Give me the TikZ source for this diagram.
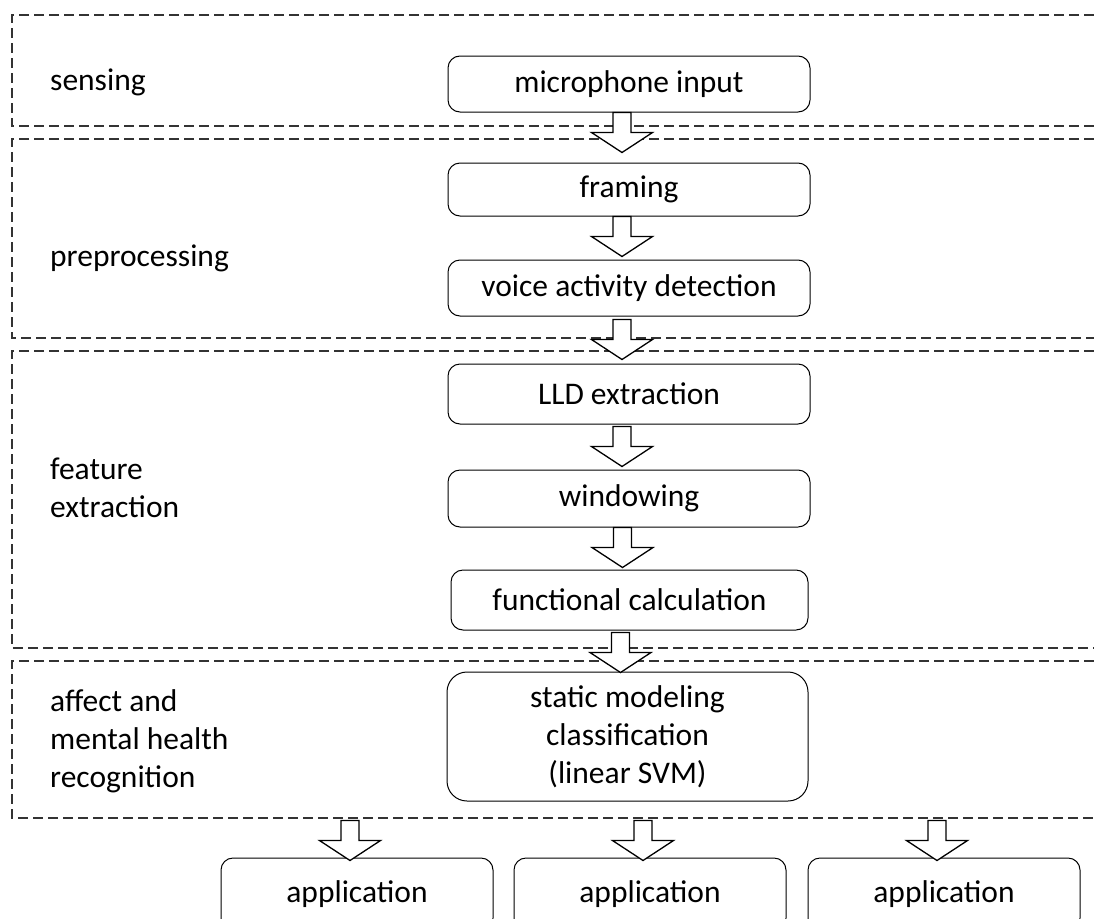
\documentclass[tikz,border=0pt]{standalone}
\usepackage{fontspec}
\setmainfont{Carlito}
\usetikzlibrary{positioning,calc}

% block arrow from one box down to the next
\newcommand\flowarrow[3][0]{%
  \coordinate (m) at ($(#3.north |- #2.south)+(-7,#1)$);
  \draw[flow] ($(m)+(-9,0)$) -- ++(18,0) -- ++(0,20) -- ++(21.5,0) -- ($(m)+(0,40)$) -- ++(-30.5,-20) -- ++(21.5,0) -- cycle;}

\begin{document}
\begin{tikzpicture}[x=1pt,y=-1pt,
  stage/.style={draw=black!80,line width=1.3pt,dash pattern=on 10pt off 5pt},
  stagename/.style={anchor=west,align=left,inner xsep=0pt,font=\fontsize{31.5}{38}\selectfont},
  box/.style={draw=black,line width=1pt,rounded corners=12pt,minimum width=362pt,minimum height=56pt,align=center,font=\fontsize{31.5}{38}\selectfont},
  flow/.style={draw=black,fill=white,line width=1.3pt,line join=miter}]
\useasboundingbox (0,0) rectangle (1094,918);
\clip (0,0) rectangle (1094,918);
% the dashed stages, open to the right
\foreach \t/\b in {15/126,139/338,351/648,661/818}
  \draw[stage] (1094,\t) -- (12,\t) -- (12,\b) -- (1094,\b);
% the stage names
\node[stagename] (sensing) at (50,82) {sensing};
\node[stagename] (prep) at (50,258) {preprocessing};
\node[stagename] (feat) at (50,488) {feature\\extraction};
\node[stagename] (affect) at (50,741) {affect and\\mental health\\recognition};
% the processing boxes
\node[box] (mic) at (629,84) {microphone input};
\node[box,minimum height=53pt] (framing) at (629,189.5) {framing};
\node[box] (vad) at (629,288) {voice activity detection};
\node[box,minimum height=60pt] (lld) at (629,394) {LLD extraction};
\node[box,minimum height=57pt] (windowing) at (629,498.5) {windowing};
\node[box,minimum width=357pt,minimum height=60pt] (functional) at (629.5,600) {functional calculation};
\node[box,rounded corners=20pt,minimum width=361pt,minimum height=129pt] (static) at (627.5,736.5) {static modeling\\classification\\(linear SVM)};
\foreach \x/\n in {357/app1,650/app2,944/app3}
  \node[box,minimum width=272pt,minimum height=72pt] (\n) at (\x,894) {application};
% the arrows
\flowarrow{mic}{framing}
\flowarrow{framing}{vad}
\flowarrow[3]{vad}{lld}
\flowarrow[2]{lld}{windowing}
\flowarrow{windowing}{functional}
\flowarrow[2]{functional}{static}
\foreach \n in {app1,app2,app3}
  {\flowarrow[19]{static}{\n}}
\end{tikzpicture}
\end{document}
